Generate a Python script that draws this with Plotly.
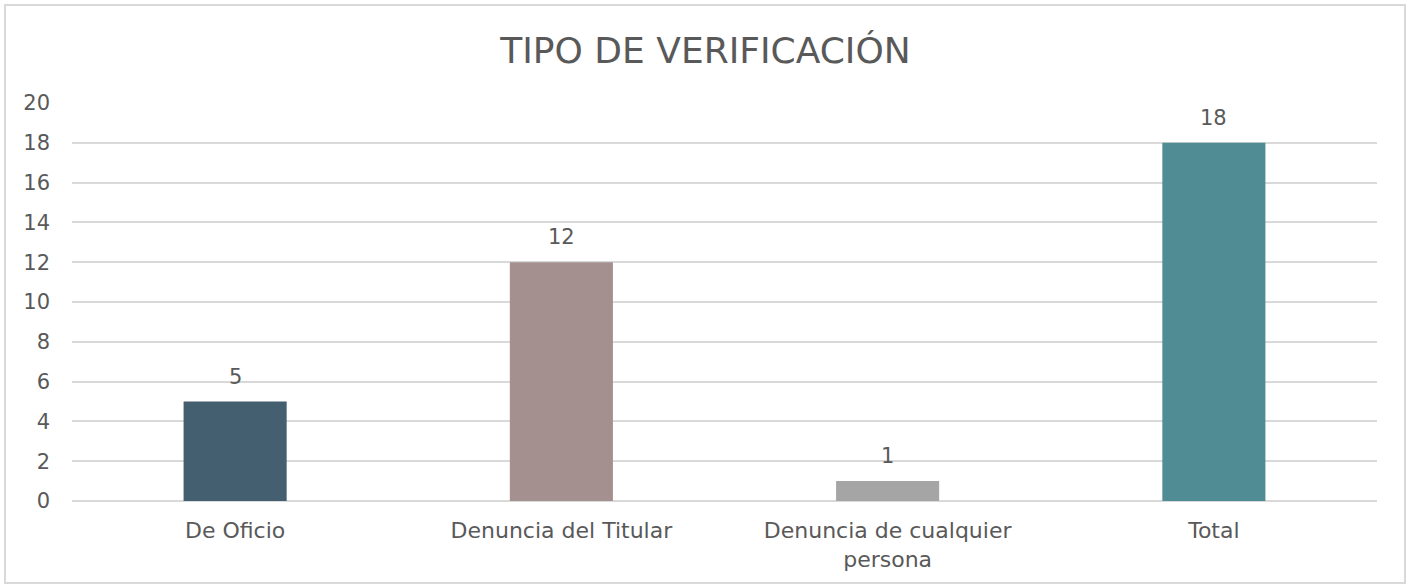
import plotly.graph_objects as go

# Chart data
categorias = ['De Oficio', 'Denuncia del Titular', 'Denuncia de cualquier<br>persona', 'Total']
valores = [5, 12, 1, 18]
colores = ['#445F6F', '#A59090', '#A5A5A5', '#508C94']

W, H = 1411, 588
m_l, m_r, m_t, m_b = 72, 34, 103, 87
texto = '#595959'
rejilla = '#D9D9D9'
fuente = 'DejaVu Sans'

fig = go.Figure()

fig.add_trace(go.Bar(
    x=categorias, y=valores,
    marker=dict(color=colores, line=dict(width=0)),
    width=0.316,
    showlegend=False,
))

# Data labels above each bar
for c, v in zip(categorias, valores):
    fig.add_annotation(x=c, y=v, text=str(v), showarrow=False,
                       yanchor='bottom', yshift=11,
                       font=dict(size=21, color=texto, family=fuente))

# Outer chart border (Excel-style frame)
pw = W - m_l - m_r
ph = H - m_t - m_b
fig.add_shape(
    type='rect', xref='paper', yref='paper',
    x0=(5 - m_l) / pw, x1=(1405 - m_l) / pw,
    y0=-(583 - (H - m_b)) / ph, y1=1 + (m_t - 5) / ph,
    line=dict(color=rejilla, width=2), layer='below',
)

fig.update_layout(
    title=dict(text='TIPO DE VERIFICACIÓN', x=0.5, xanchor='center',
               y=1 - 50 / H, yanchor='middle',
               font=dict(size=36, color=texto, family=fuente)),
    width=W, height=H,
    margin=dict(l=m_l, r=m_r, t=m_t, b=m_b, autoexpand=False),
    font=dict(family=fuente, size=22, color=texto),
    plot_bgcolor='white', paper_bgcolor='white',
)

fig.update_xaxes(showgrid=False, showline=False, ticks='',
                 tickfont=dict(size=22, color=texto, family=fuente),
                 ticklabelstandoff=14)
fig.update_yaxes(range=[0, 20], dtick=2, showgrid=True, gridcolor=rejilla,
                 gridwidth=1.5, zeroline=True, zerolinecolor=rejilla,
                 zerolinewidth=1.5, showline=False, ticks='',
                 tickfont=dict(size=21, color=texto, family=fuente),
                 ticklabelstandoff=21)

fig.write_html('out.html', config={'displayModeBar': False},
               post_script="document.body.style.margin='0';")
